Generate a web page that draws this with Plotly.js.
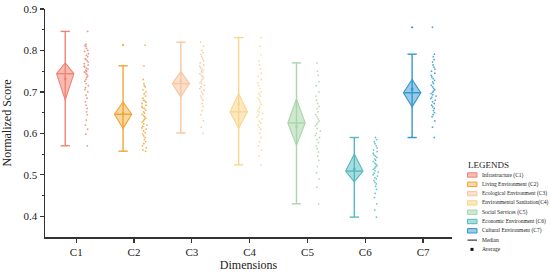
<!DOCTYPE html>
<html>
<head>
<meta charset="utf-8">
<script src="https://cdn.plot.ly/plotly-3.0.1.min.js"></script>
<style>html,body{margin:0;padding:0;background:#fff;}#chart{width:550px;height:276px;}</style>
</head>
<body>
<div id="chart"></div>
<script>
const categories = ['C1','C2','C3','C4','C5','C6','C7'];
const names = ['Infrastructure (C1)','Living Environment (C2)','Ecological Environment (C3)','Environmental Sanitation(C4)','Social Services (C5)','Economic Environment (C6)','Cultural Environment (C7)'];
const colors = ['rgb(240,132,116)','rgb(240,166,52)','rgb(248,198,160)','rgb(249,214,142)','rgb(168,214,170)','rgb(84,186,190)','rgb(52,150,208)'];
const fills = ['rgba(240,132,116,0.55)','rgba(240,166,52,0.45)','rgba(248,198,160,0.55)','rgba(249,214,142,0.55)','rgba(168,214,170,0.55)','rgba(84,186,190,0.5)','rgba(52,150,208,0.5)'];

const whiskerLow  = [0.570,0.557,0.601,0.524,0.430,0.398,0.590];
const q1          = [0.680,0.612,0.688,0.612,0.571,0.483,0.664];
const median      = [0.744,0.646,0.720,0.652,0.625,0.509,0.698];
const q3          = [0.770,0.676,0.749,0.696,0.683,0.550,0.730];
const whiskerHigh = [0.846,0.763,0.820,0.831,0.770,0.590,0.791];
const outliers    = [[],[0.813],[],[],[],[],[0.856]];

const pointsC1 = [0.846,0.815,0.812,0.81,0.805,0.80,0.798,0.792,0.788,0.785,0.78,0.778,0.775,0.772,0.768,0.765,0.762,0.76,0.757,0.755,0.752,0.75,0.748,0.745,0.742,0.738,0.735,0.73,0.726,0.72,0.715,0.71,0.705,0.70,0.692,0.685,0.676,0.668,0.66,0.652,0.645,0.632,0.62,0.61,0.598,0.57];
const pointsC2 = [0.813,0.763,0.73,0.72,0.715,0.712,0.705,0.70,0.695,0.69,0.685,0.68,0.678,0.675,0.672,0.668,0.665,0.662,0.66,0.656,0.652,0.649,0.646,0.643,0.64,0.637,0.634,0.63,0.627,0.623,0.62,0.617,0.613,0.61,0.606,0.602,0.598,0.594,0.59,0.585,0.58,0.575,0.57,0.565,0.56,0.557];
const pointsC3 = [0.82,0.81,0.80,0.795,0.79,0.785,0.78,0.775,0.77,0.765,0.762,0.758,0.755,0.752,0.75,0.747,0.744,0.74,0.737,0.734,0.73,0.726,0.722,0.72,0.716,0.712,0.708,0.704,0.70,0.695,0.69,0.685,0.68,0.672,0.665,0.655,0.645,0.63,0.615,0.60];
const pointsC4 = [0.831,0.81,0.79,0.775,0.765,0.755,0.745,0.738,0.73,0.722,0.715,0.708,0.70,0.695,0.69,0.685,0.68,0.675,0.67,0.665,0.66,0.655,0.652,0.648,0.644,0.64,0.635,0.63,0.625,0.62,0.615,0.61,0.60,0.59,0.58,0.57,0.56,0.545,0.524];
const pointsC5 = [0.77,0.75,0.74,0.725,0.715,0.70,0.69,0.68,0.672,0.665,0.66,0.652,0.645,0.64,0.635,0.63,0.626,0.622,0.618,0.612,0.606,0.60,0.595,0.59,0.585,0.578,0.57,0.563,0.555,0.545,0.535,0.52,0.505,0.49,0.47,0.43];
const pointsC6 = [0.59,0.585,0.58,0.575,0.57,0.565,0.56,0.556,0.552,0.548,0.545,0.542,0.538,0.535,0.532,0.528,0.525,0.522,0.519,0.516,0.513,0.51,0.507,0.504,0.50,0.497,0.493,0.49,0.486,0.482,0.478,0.472,0.465,0.455,0.445,0.43,0.415,0.398];
const pointsC7 = [0.856,0.791,0.785,0.778,0.772,0.765,0.76,0.755,0.75,0.745,0.74,0.736,0.732,0.728,0.724,0.72,0.716,0.712,0.708,0.705,0.702,0.699,0.696,0.693,0.69,0.687,0.684,0.68,0.676,0.672,0.668,0.664,0.66,0.655,0.65,0.645,0.64,0.63,0.615,0.59];
const points = [pointsC1,pointsC2,pointsC3,pointsC4,pointsC5,pointsC6,pointsC7];

const yTicks = [0.4,0.5,0.6,0.7,0.8,0.9];

// layout geometry
const M = {l:45, r:98, t:9, b:39};
const W = 550, H = 276;
const PW = W - M.l - M.r, PH = H - M.t - M.b;
const px2x = p => (p - M.l) / PW;
const px2y = p => (H - M.b - p) / PH;

const boxOff = -0.19, halfW = 0.15, capW = 0.08, ptsOff = 0.18;
const serif = 'Liberation Serif, Times New Roman, serif';

const traces = [];
categories.forEach((c, i) => {
  const cx = i + boxOff;
  traces.push({
    type:'scatter', mode:'lines', hoverinfo:'skip', showlegend:false,
    x:[cx, cx, null, cx-capW, cx+capW, null, cx-capW, cx+capW],
    y:[whiskerLow[i], whiskerHigh[i], null, whiskerHigh[i], whiskerHigh[i], null, whiskerLow[i], whiskerLow[i]],
    line:{color:colors[i], width:1.4}
  });
  traces.push({
    type:'scatter', mode:'lines', fill:'toself', fillcolor:fills[i], hoverinfo:'skip', showlegend:false,
    x:[cx-halfW, cx, cx+halfW, cx, cx-halfW],
    y:[median[i], q3[i], median[i], q1[i], median[i]],
    line:{color:colors[i], width:1.1}
  });
  traces.push({
    type:'scatter', mode:'lines', hoverinfo:'skip', showlegend:false,
    x:[cx-halfW, cx+halfW], y:[median[i], median[i]],
    line:{color:colors[i], width:1.4}
  });
  const pts = points[i];
  const mean = pts.reduce((a,b)=>a+b,0)/pts.length;
  traces.push({
    type:'scatter', mode:'markers', hoverinfo:'skip', showlegend:false,
    x:[cx], y:[mean], marker:{symbol:'square', size:2.5, color:colors[i]}
  });
  if (outliers[i].length) {
    traces.push({
      type:'scatter', mode:'markers', hoverinfo:'skip', showlegend:false,
      x:outliers[i].map(()=>cx), y:outliers[i], marker:{size:2.2, color:colors[i]}
    });
  }
  traces.push({
    type:'box', y:pts, x0:i+ptsOff, width:0.1, boxpoints:'all', jitter:1, pointpos:0,
    fillcolor:'rgba(0,0,0,0)', line:{color:'rgba(0,0,0,0)', width:0},
    marker:{color:colors[i], size:1.8, opacity:0.85}, hoverinfo:'skip', showlegend:false
  });
});

const shapes = [], annotations = [];
annotations.push({xref:'paper', yref:'paper', x:px2x(466), y:px2y(165), xanchor:'left', yanchor:'middle',
  text:'LEGENDS', showarrow:false, font:{family:serif, size:9, color:'#222'}});
const legY0 = 175, legDy = 9.3;
names.forEach((n, i) => {
  const yy = legY0 + i*legDy;
  shapes.push({type:'rect', xref:'paper', yref:'paper', x0:px2x(467.5), x1:px2x(477), y0:px2y(yy-2.2), y1:px2y(yy+2.2),
    fillcolor:fills[i], line:{color:colors[i], width:1}});
  annotations.push({xref:'paper', yref:'paper', x:px2x(480), y:px2y(yy), xanchor:'left', yanchor:'middle',
    text:n, showarrow:false, font:{family:serif, size:5.5, color:'#222'}});
});
const yMed = legY0 + 7*legDy, yAvg = legY0 + 8*legDy;
shapes.push({type:'line', xref:'paper', yref:'paper', x0:px2x(467.5), x1:px2x(477), y0:px2y(yMed), y1:px2y(yMed), line:{color:'#111', width:1}});
annotations.push({xref:'paper', yref:'paper', x:px2x(480), y:px2y(yMed), xanchor:'left', yanchor:'middle', text:'Median', showarrow:false, font:{family:serif, size:5.5, color:'#222'}});
shapes.push({type:'rect', xref:'paper', yref:'paper', x0:px2x(470.5), x1:px2x(473.5), y0:px2y(yAvg-1.5), y1:px2y(yAvg+1.5), fillcolor:'#111', line:{width:0}});
annotations.push({xref:'paper', yref:'paper', x:px2x(480), y:px2y(yAvg), xanchor:'left', yanchor:'middle', text:'Average', showarrow:false, font:{family:serif, size:5.5, color:'#222'}});

const layout = {
  width:W, height:H, margin:M, showlegend:false,
  paper_bgcolor:'#fff', plot_bgcolor:'#fff',
  font:{family:serif, color:'#222'},
  xaxis:{
    range:[-0.54, 6.5], tickvals:categories.map((c,i)=>i), ticktext:categories,
    showline:true, linecolor:'#333', linewidth:1.5, ticks:'outside', ticklen:4, tickwidth:1.2, tickcolor:'#333',
    showgrid:false, zeroline:false, tickfont:{family:serif, size:11, color:'#222'},
    title:{text:'Dimensions', font:{family:serif, size:12, color:'#222'}, standoff:4}
  },
  yaxis:{
    range:[0.35, 0.9], tickvals:yTicks, ticktext:yTicks.map(v=>v.toFixed(1)),
    showline:true, linecolor:'#333', linewidth:1.5, ticks:'outside', ticklen:4, tickwidth:1.2, tickcolor:'#333',
    minor:{tickvals:[0.45,0.55,0.65,0.75,0.85], ticks:'outside', ticklen:2, tickcolor:'#333', tickwidth:1},
    showgrid:false, zeroline:false, tickfont:{family:serif, size:11, color:'#222'},
    title:{text:'Normalized Score', font:{family:serif, size:12, color:'#222'}, standoff:10}
  },
  boxmode:'overlay',
  shapes:shapes, annotations:annotations
};

Plotly.newPlot('chart', traces, layout, {displayModeBar:false, staticPlot:true});
</script>
</body>
</html>
